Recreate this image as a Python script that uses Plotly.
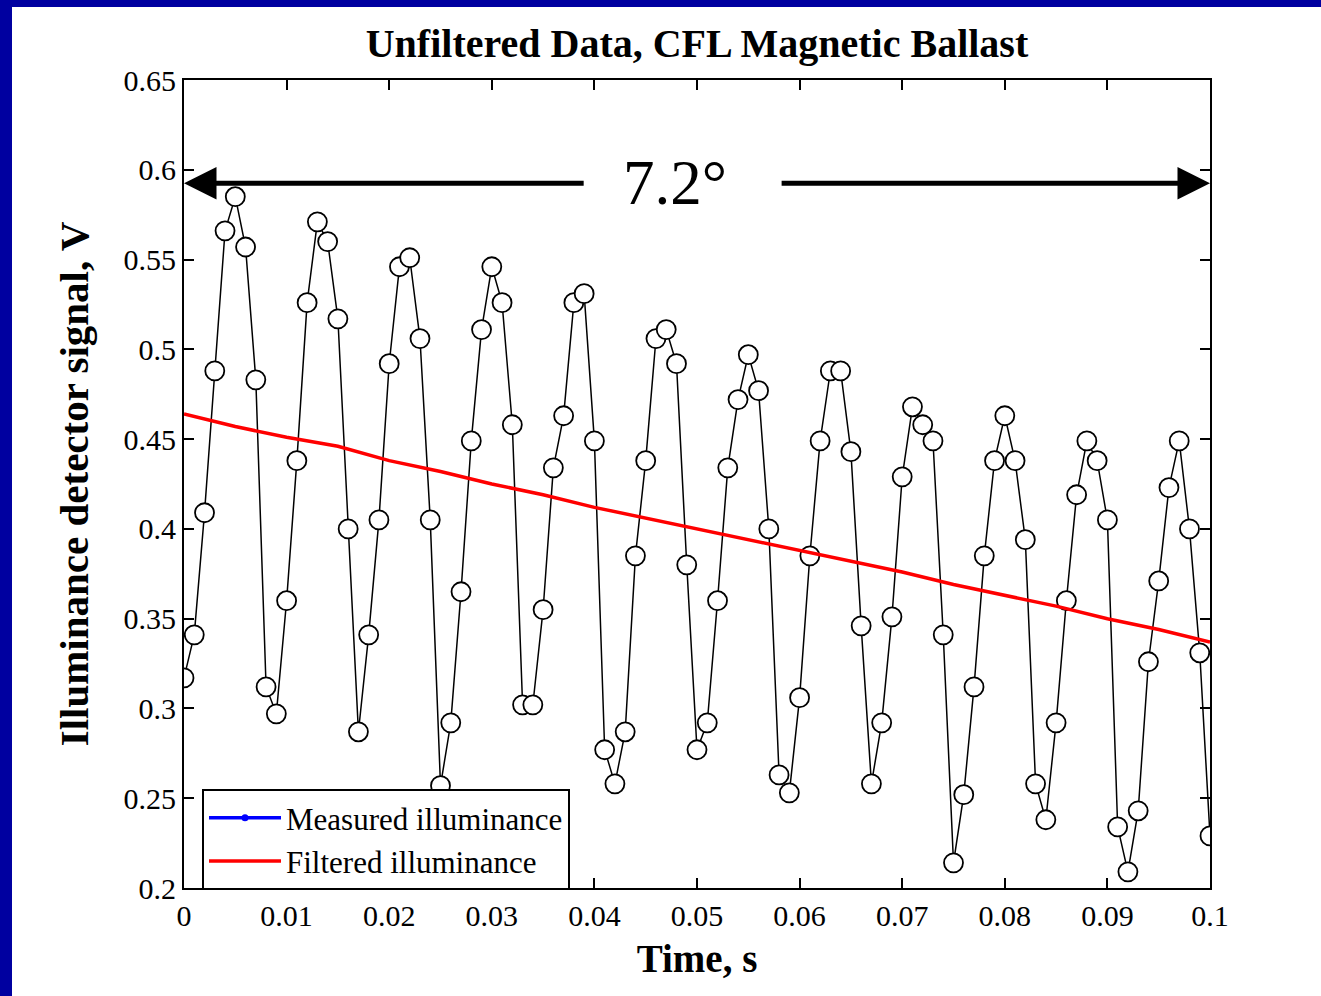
import plotly.graph_objects as go

# ---------------- data ----------------
time_s = [i * 0.001 for i in range(101)]
measured_v = [
    0.317, 0.341, 0.409, 0.488, 0.566, 0.585, 0.557, 0.483, 0.312, 0.297,
    0.360, 0.438, 0.526, 0.571, 0.560, 0.517, 0.400, 0.287, 0.341, 0.405,
    0.492, 0.546, 0.551, 0.506, 0.405, 0.257, 0.292, 0.365, 0.449, 0.511,
    0.546, 0.526, 0.458, 0.302, 0.302, 0.355, 0.434, 0.463, 0.526, 0.531,
    0.449, 0.277, 0.258, 0.287, 0.385, 0.438, 0.506, 0.511, 0.492, 0.380,
    0.277, 0.292, 0.360, 0.434, 0.472, 0.497, 0.477, 0.400, 0.263, 0.253,
    0.306, 0.385, 0.449, 0.488, 0.488, 0.443, 0.346, 0.258, 0.292, 0.351,
    0.429, 0.468, 0.458, 0.449, 0.341, 0.214, 0.252, 0.312, 0.385, 0.438,
    0.463, 0.438, 0.394, 0.258, 0.238, 0.292, 0.360, 0.419, 0.449, 0.438,
    0.405, 0.234, 0.209, 0.243, 0.326, 0.371, 0.423, 0.449, 0.400, 0.331,
    0.229,
]
filtered_t = [0.0, 0.005, 0.01, 0.015, 0.02, 0.025, 0.03, 0.035, 0.04, 0.045, 0.05,
              0.055, 0.06, 0.065, 0.07, 0.075, 0.08, 0.085, 0.09, 0.095, 0.1]
filtered_v = [0.464, 0.457, 0.451, 0.446, 0.438, 0.432, 0.425, 0.419, 0.412, 0.406, 0.400,
              0.394, 0.388, 0.382, 0.376, 0.369, 0.363, 0.357, 0.350, 0.344, 0.337]

x_ticks = [0, 0.01, 0.02, 0.03, 0.04, 0.05, 0.06, 0.07, 0.08, 0.09, 0.1]
x_labels = ["0", "0.01", "0.02", "0.03", "0.04", "0.05", "0.06", "0.07", "0.08", "0.09", "0.1"]
y_ticks = [0.2, 0.25, 0.3, 0.35, 0.4, 0.45, 0.5, 0.55, 0.6, 0.65]
y_labels = ["0.2", "0.25", "0.3", "0.35", "0.4", "0.45", "0.5", "0.55", "0.6", "0.65"]

span_label = "7.2°"
span_label_x = 0.0479
span_y = 0.5925
span_left_gap = 0.0391
span_right_gap = 0.0581

FONT = "Liberation Serif, Times New Roman, serif"

fig = go.Figure()

# measured data (drawn)
fig.add_trace(go.Scatter(
    x=time_s, y=measured_v, mode="lines+markers",
    line=dict(color="black", width=1.5),
    marker=dict(symbol="circle", size=19, color="white",
                line=dict(color="black", width=1.8)),
    showlegend=False, hoverinfo="x+y",
))
# filtered line
fig.add_trace(go.Scatter(
    x=filtered_t, y=filtered_v, mode="lines",
    line=dict(color="#ff0000", width=3.5),
    showlegend=False,
))
# legend entries
fig.add_trace(go.Scatter(
    x=[None], y=[None], mode="lines+markers", name="Measured illuminance",
    line=dict(color="#0000ff", width=3.5),
    marker=dict(color="#0000ff", size=7),
))
fig.add_trace(go.Scatter(
    x=[None], y=[None], mode="lines", name="Filtered illuminance",
    line=dict(color="#ff0000", width=3.5),
))

W, H = 1321, 996
L, R, T, B = 184, 111, 80, 108
pw, ph = W - L - R, H - T - B

def px_to_paper_x(px):
    return (px - L) / pw

def px_to_paper_y(py):
    return (H - B - py) / ph

# blue frame (left and top)
frame_color = "#0000a0"
shapes = [
    dict(type="rect", xref="paper", yref="paper",
         x0=px_to_paper_x(-5), x1=px_to_paper_x(12),
         y0=px_to_paper_y(1000), y1=px_to_paper_y(-5),
         fillcolor=frame_color, line=dict(width=0), layer="below"),
    dict(type="rect", xref="paper", yref="paper",
         x0=px_to_paper_x(-5), x1=px_to_paper_x(1330),
         y0=px_to_paper_y(7), y1=px_to_paper_y(-5),
         fillcolor=frame_color, line=dict(width=0), layer="below"),
]

annotations = [
    dict(x=0.0, y=span_y, xref="x", yref="y", ax=span_left_gap, ay=span_y,
         axref="x", ayref="y", text="", showarrow=True,
         arrowhead=2, arrowsize=1.3, arrowwidth=5, arrowcolor="black"),
    dict(x=0.1, y=span_y, xref="x", yref="y", ax=span_right_gap, ay=span_y,
         axref="x", ayref="y", text="", showarrow=True,
         arrowhead=2, arrowsize=1.3, arrowwidth=5, arrowcolor="black"),
    dict(x=span_label_x, y=span_y, xref="x", yref="y",
         text=span_label, showarrow=False,
         font=dict(family=FONT, size=63, color="black"),
         xanchor="center", yanchor="middle"),
]

axis_common = dict(
    showline=True, linecolor="black", linewidth=2, mirror="ticks",
    ticks="inside", ticklen=10, tickwidth=2, tickcolor="black",
    showgrid=False, zeroline=False,
    tickfont=dict(family=FONT, size=30, color="black"),
)

fig.update_layout(
    width=W, height=H,
    margin=dict(l=L, r=R, t=T, b=B, autoexpand=False),
    paper_bgcolor="white", plot_bgcolor="white",
    title=dict(text="<b>Unfiltered Data, CFL Magnetic Ballast</b>",
               x=697 / W, xanchor="center",
               y=1 - 43 / H, yanchor="middle",
               font=dict(family=FONT, size=40, color="black")),
    xaxis=dict(range=[0, 0.1], tickvals=x_ticks, ticktext=x_labels,
               title=dict(text="<b>Time, s</b>", standoff=14,
                          font=dict(family=FONT, size=39, color="black")),
               **axis_common),
    yaxis=dict(range=[0.2, 0.65], tickvals=y_ticks, ticktext=y_labels,
               title=dict(text="<b>Illuminance detector signal, V</b>", standoff=22,
                          font=dict(family=FONT, size=41, color="black")),
               **axis_common),
    legend=dict(x=px_to_paper_x(202), y=px_to_paper_y(789),
                xanchor="left", yanchor="top",
                bgcolor="white", bordercolor="black", borderwidth=2,
                font=dict(family=FONT, size=31, color="black"),
                itemwidth=72, tracegroupgap=0),
    shapes=shapes,
    annotations=annotations,
    showlegend=True,
)

fig.write_html("out.html",
               config={"displayModeBar": False},
               post_script="document.body.style.margin='0';document.body.style.padding='0';")
